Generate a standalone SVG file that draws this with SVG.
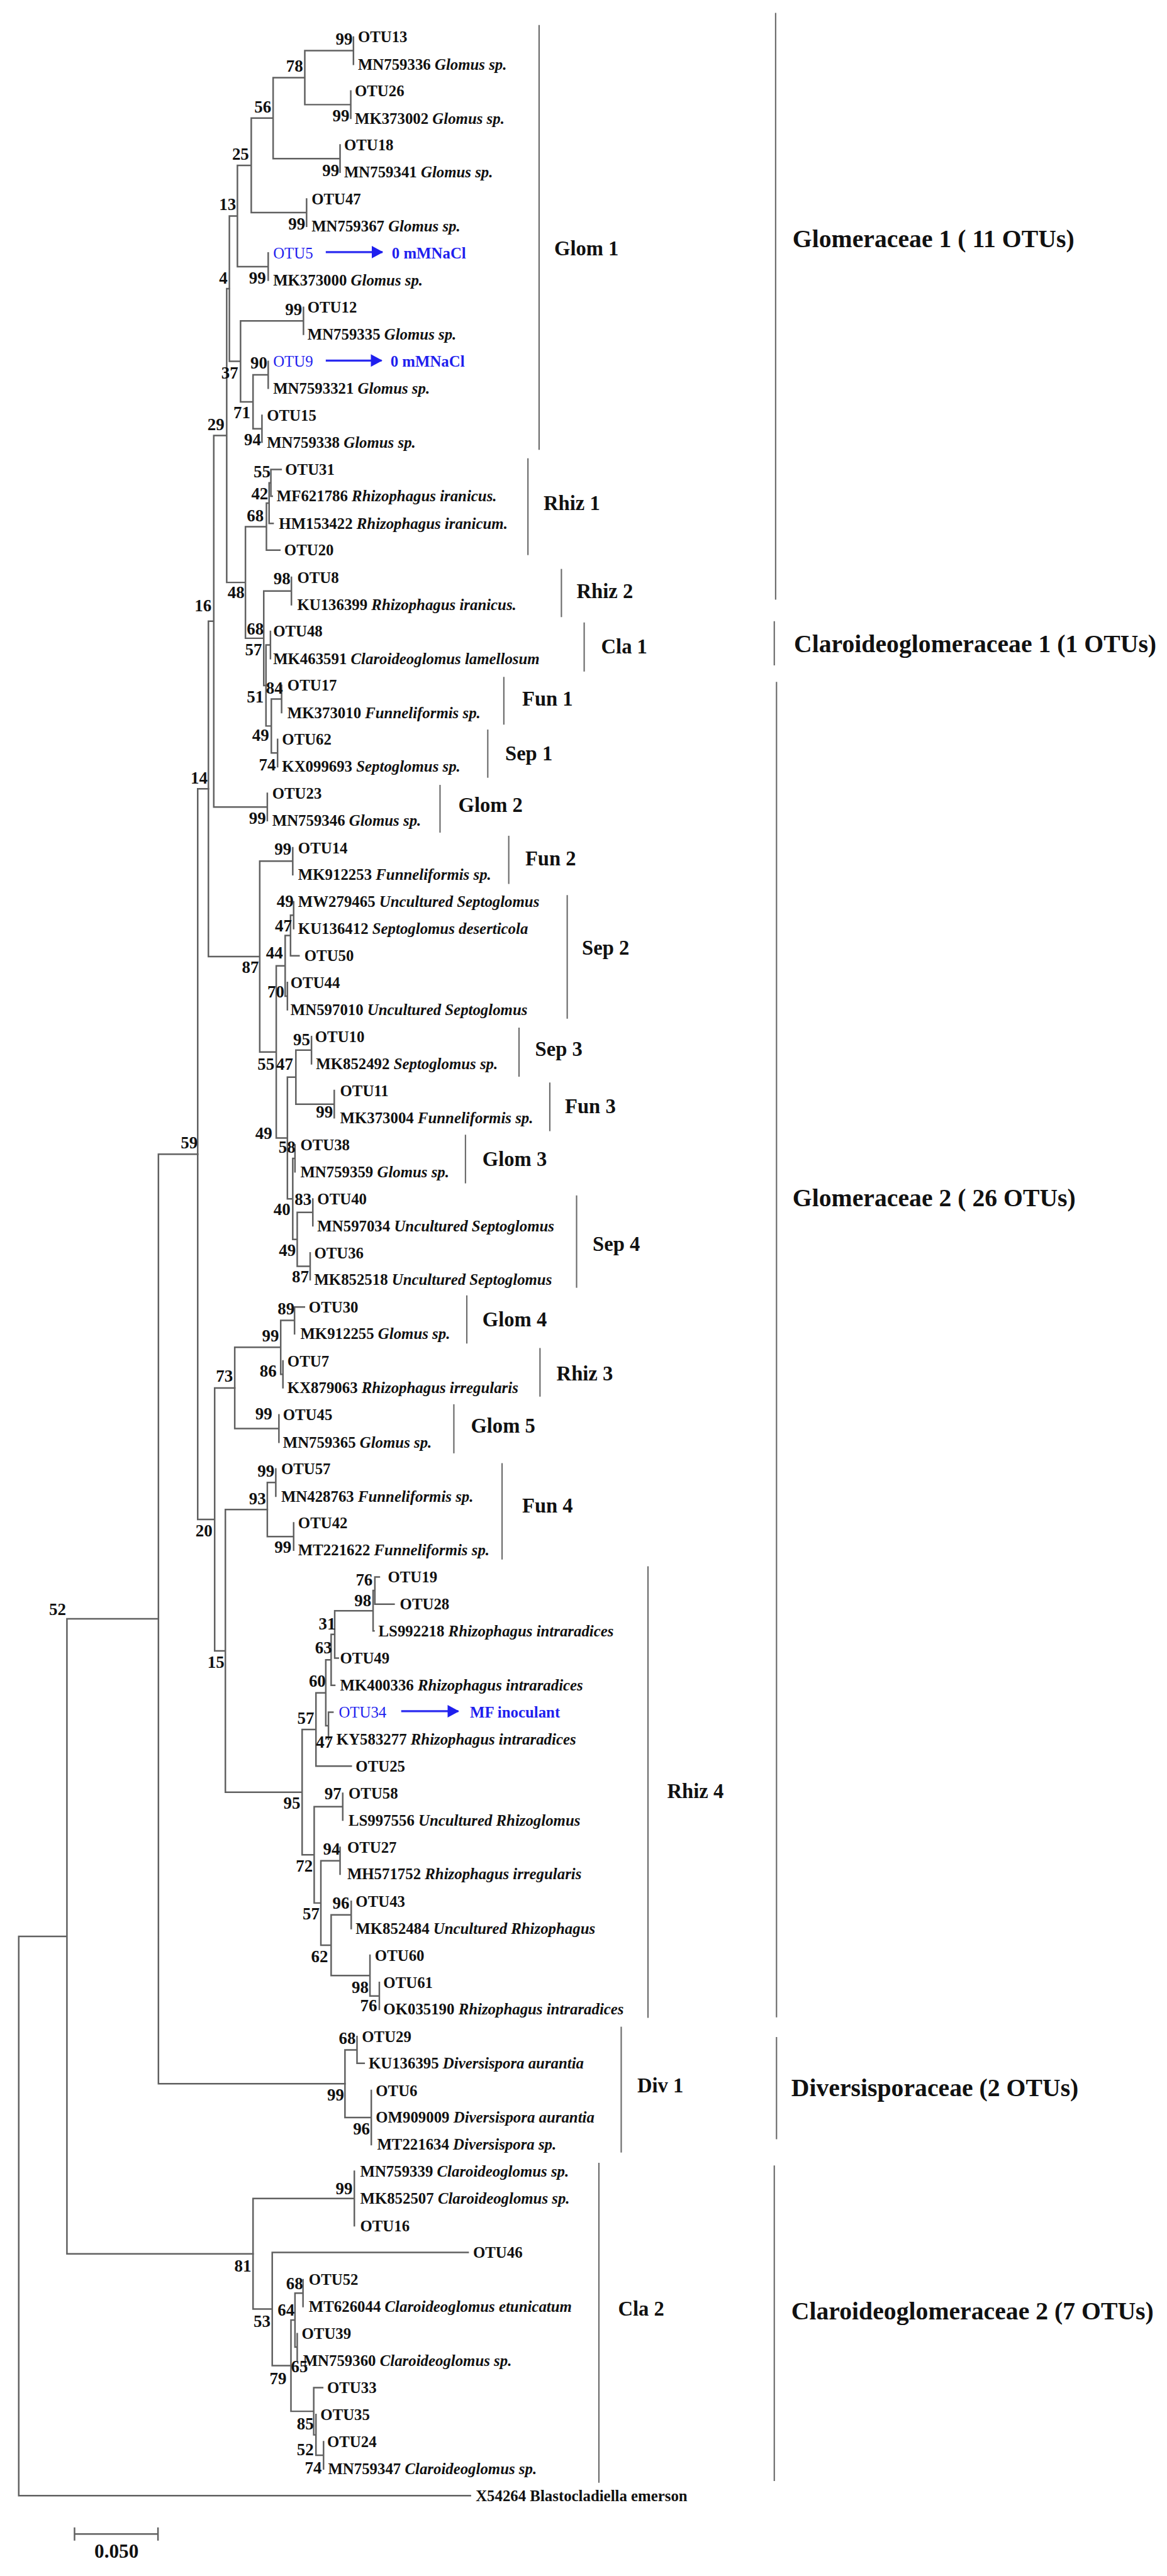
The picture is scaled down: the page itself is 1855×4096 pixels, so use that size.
<svg xmlns="http://www.w3.org/2000/svg" width="1855" height="4096" viewBox="0 0 1855 4096">
<defs>
<style>
text{font-family:"Liberation Serif","Times New Roman",serif;font-weight:bold;fill:#111}
.t{font-size:35px}
.i{font-style:italic}
.s{font-size:38px;text-anchor:end}
.c{font-size:46px}
.f{font-size:56px}
.bl{fill:#1f1fee}
.n{font-weight:normal}
.tree{fill:none;stroke:#606060;stroke-width:3.5;stroke-linecap:square}
.bar{fill:none;stroke:#6a6a6a;stroke-width:3}
.arr{fill:none;stroke:#2a2af0;stroke-width:4.5}
</style>
<marker id="ah" markerUnits="userSpaceOnUse" markerWidth="26" markerHeight="28" refX="24" refY="14" orient="auto">
<path d="M0,0L26,14L0,28Z" fill="#1f1fee"/>
</marker>
</defs>
<rect width="1855" height="4096" fill="#fff"/>
<g transform="scale(0.70937,0.70951)">
<g id="connectors">
<path class="tree" d="M792,83V144M786,204V265M683,113.5V234.5M683,113.5H792M683,234.5H786M762,325V386M612,174V355.5M612,174H683M612,355.5H762M687,446V507M563,264.75V476.5M563,264.75H612M563,476.5H687M601,567V628M532,370.6V597.5M532,370.6H563M532,597.5H601M680,689V749M601,810V870M587,931V991M567,840V961M567,840H601M567,961H587M539,719V900.5M539,719H680M539,900.5H567M514,484V809.75M514,484H532M514,809.75H539"/>
<path class="tree" d="M607,1052V1112M607,1052H630M607,1112H610M603,1082V1173M603,1082H607M603,1173H612M597,1127.5V1233M597,1127.5H603M597,1233H627M653,1294V1355M606,1415V1476M631,1536V1597M622,1657V1718M608,1566.5V1687.5M608,1566.5H631M608,1687.5H622M596,1445.5V1627M596,1445.5H606M596,1627H608M591,1324.5V1536.25M591,1324.5H653M591,1536.25H596M550,1180.25V1430.4M550,1180.25H597M550,1430.4H591M508,646.9V1305.3M508,646.9H514M508,1305.3H550M599,1778V1839M479,976.1V1808.5M479,976.1H508M479,1808.5H599"/>
<path class="tree" d="M656,1900V1960M658,2021V2081M651,2051V2142M651,2051H658M651,2142H670M644,2202V2263M639,2096.5V2232.5M639,2096.5H651M639,2232.5H644M698,2323V2384M749,2444V2505M663,2353.5V2474.5M663,2353.5H698M663,2474.5H749M661,2566V2626M701,2687V2747M695,2808V2868M666,2717V2838M666,2717H701M666,2838H695M656,2596V2777.5M656,2596H661M656,2777.5H666M644,2414V2686.75M644,2414H663M644,2686.75H656M619,2164.5V2550.4M619,2164.5H639M619,2550.4H644M582,1930V2357.5M582,1930H656M582,2357.5H619M467,1392.3V2143.7M467,1392.3H479M467,2143.7H582"/>
<path class="tree" d="M660,2929V2989M660,2929H682M634,3050V3110M629,2959V3080M629,2959H660M629,3080H634M625,3171V3232M526,3019.5V3201.5M526,3019.5H629M526,3201.5H625M618,3292V3353M658,3413V3474M599,3322.5V3443.5M599,3322.5H618M599,3443.5H658"/>
<path class="tree" d="M840,3534V3595M840,3534H850M840,3595H883M836,3564.5V3655M836,3564.5H840M836,3655H838M750,3609.75V3716M750,3609.75H836M750,3716H758M742,3662.9V3777M742,3662.9H750M742,3777H750M736,3837V3898M736,3837H746M730,3719.9V3867.5M730,3719.9H742M730,3867.5H736M708,3793.7V3958M708,3793.7H730M708,3958H787M768,4019V4079M762,4140V4200M787,4261V4322M850,4443V4503M829,4382V4473M829,4473H850M742,4291.5V4427.5M742,4291.5H787M742,4427.5H829M719,4170V4359.5M719,4170H762M719,4359.5H742M704,4049V4264.75M704,4049H768M704,4264.75H719M677,3875.9V4156.9M677,3875.9H708M677,4156.9H704M505,3383V4016.4M505,3383H599M505,4016.4H677M481,3110.5V3699.7M481,3110.5H526M481,3699.7H505M443,1767.9V3405.1M443,1767.9H467M443,3405.1H481"/>
<path class="tree" d="M800,4564V4624M800,4624H816M832,4685V4806M773,4594V4745.5M773,4594H800M773,4745.5H832M794,4866V4988M679,5109V5169M666,5230V5290M661,5139V5260M661,5139H679M661,5260H666M725,5472V5533M708,5411V5502.5M708,5502.5H725M703,5351V5456.75M703,5351H723M703,5456.75H708M652,5199.5V5403.9M652,5199.5H661M652,5403.9H703M610,5048V5301.7M610,5048H1049M610,5301.7H652M567,4927V5174.85M567,4927H794M567,5174.85H610"/>
<path class="tree" d="M355,2586.5V4669.75M355,2586.5H443M355,4669.75H773M150,3628V5051M150,3628H355M150,5051H567M42,4339.5V5593M42,4339.5H150M42,5593H1054"/>
<path class="arr" d="M730,565H857" marker-end="url(#ah)"/>
<path class="arr" d="M730,808H855" marker-end="url(#ah)"/>
<path class="arr" d="M899,3835H1027" marker-end="url(#ah)"/>
</g>
<g id="support">
<text class="s" x="790" y="100">99</text><text class="s" x="783" y="272">99</text><text class="s" x="679" y="161">78</text><text class="s" x="760" y="394">99</text><text class="s" x="608" y="252">56</text><text class="s" x="684" y="514">99</text><text class="s" x="558" y="358">25</text><text class="s" x="529" y="471">13</text>
<text class="s" x="596" y="635">99</text><text class="s" x="510" y="635">4</text><text class="s" x="677" y="706">99</text><text class="s" x="599" y="826">90</text><text class="s" x="585" y="998">94</text><text class="s" x="561" y="937">71</text><text class="s" x="534" y="848">37</text><text class="s" x="503" y="964">29</text>
<text class="s" x="606" y="1070">55</text><text class="s" x="601" y="1119">42</text><text class="s" x="591" y="1168">68</text><text class="s" x="651" y="1310">98</text><text class="s" x="548" y="1340">48</text><text class="s" x="474" y="1370">16</text><text class="s" x="591" y="1422">68</text><text class="s" x="587" y="1468">57</text><text class="s" x="634" y="1554">84</text><text class="s" x="591" y="1575">51</text>
<text class="s" x="603" y="1661">49</text><text class="s" x="618" y="1726">74</text><text class="s" x="465" y="1756">14</text><text class="s" x="596" y="1847">99</text><text class="s" x="653" y="1915">99</text><text class="s" x="658" y="2032">49</text><text class="s" x="654" y="2087">47</text>
<text class="s" x="634" y="2148">44</text><text class="s" x="580" y="2180">87</text><text class="s" x="637" y="2235">70</text><text class="s" x="695" y="2342">95</text><text class="s" x="657" y="2398">47</text><text class="s" x="615" y="2398">55</text><text class="s" x="746" y="2504">99</text><text class="s" x="610" y="2552">49</text><text class="s" x="443" y="2574">59</text><text class="s" x="662" y="2584">58</text>
<text class="s" x="698" y="2701">83</text><text class="s" x="651" y="2723">40</text><text class="s" x="663" y="2815">49</text><text class="s" x="692" y="2874">87</text><text class="s" x="660" y="2945">89</text><text class="s" x="625" y="3007">99</text><text class="s" x="620" y="3085">86</text><text class="s" x="522" y="3097">73</text>
<text class="s" x="610" y="3181">99</text><text class="s" x="615" y="3309">99</text><text class="s" x="596" y="3372">93</text><text class="s" x="476" y="3443">20</text><text class="s" x="653" y="3480">99</text><text class="s" x="835" y="3553">76</text><text class="s" x="832" y="3600">98</text><text class="s" x="752" y="3652">31</text>
<text class="s" x="744" y="3706">63</text><text class="s" x="503" y="3738">15</text><text class="s" x="730" y="3780">60</text><text class="s" x="704" y="3863">57</text><text class="s" x="746" y="3917">47</text><text class="s" x="765" y="4032">97</text><text class="s" x="673" y="4054">95</text><text class="s" x="762" y="4157">94</text>
<text class="s" x="701" y="4194">72</text><text class="s" x="783" y="4278">96</text><text class="s" x="716" y="4302">57</text><text class="s" x="735" y="4398">62</text><text class="s" x="826" y="4466">98</text><text class="s" x="845" y="4508">76</text><text class="s" x="797" y="4581">68</text>
<text class="s" x="771" y="4707">99</text><text class="s" x="829" y="4783">96</text><text class="s" x="790" y="4917">99</text><text class="s" x="563" y="5091">81</text><text class="s" x="679" y="5130">68</text><text class="s" x="660" y="5190">64</text><text class="s" x="606" y="5215">53</text>
<text class="s" x="690" y="5317">65</text><text class="s" x="642" y="5343">79</text><text class="s" x="703" y="5445">85</text><text class="s" x="703" y="5503">52</text><text class="s" x="721" y="5543">74</text>
<text class="s" x="148" y="3620">52</text>
</g>
<g id="clade-glom1">
<text class="t" x="802" y="95">OTU13</text>
<text class="t" x="802" y="156">MN759336 <tspan class="i">Glomus sp.</tspan></text>
<text class="t" x="795" y="216">OTU26</text>
<text class="t" x="795" y="277">MK373002 <tspan class="i">Glomus sp.</tspan></text>
<text class="t" x="771" y="337">OTU18</text>
<text class="t" x="771" y="398">MN759341 <tspan class="i">Glomus sp.</tspan></text>
<text class="t" x="698" y="458">OTU47</text>
<text class="t" x="698" y="519">MN759367 <tspan class="i">Glomus sp.</tspan></text>
<text class="t bl n" x="612" y="579">OTU5</text>
<text class="t bl" x="878" y="579">0 mMNaCl</text>
<text class="t" x="612" y="640">MK373000 <tspan class="i">Glomus sp.</tspan></text>
<text class="t" x="689" y="701">OTU12</text>
<text class="t" x="689" y="761">MN759335 <tspan class="i">Glomus sp.</tspan></text>
<text class="t bl n" x="612" y="822">OTU9</text>
<text class="t bl" x="875" y="822">0 mMNaCl</text>
<text class="t" x="612" y="882">MN7593321 <tspan class="i">Glomus sp.</tspan></text>
<text class="t" x="598" y="943">OTU15</text>
<text class="t" x="598" y="1003">MN759338 <tspan class="i">Glomus sp.</tspan></text>
<path class="bar" d="M1208,56V1008"/>
<text class="c" x="1242" y="572">Glom 1</text>
</g>
<g id="clade-rhiz1">
<text class="t" x="639" y="1064">OTU31</text>
<text class="t" x="620" y="1124">MF621786 <tspan class="i">Rhizophagus iranicus.</tspan></text>
<text class="t" x="625" y="1185">HM153422 <tspan class="i">Rhizophagus iranicum.</tspan></text>
<text class="t" x="637" y="1245">OTU20</text>
<path class="bar" d="M1183,1027V1244"/>
<text class="c" x="1218" y="1143">Rhiz 1</text>
</g>
<g id="clade-rhiz2">
<text class="t" x="666" y="1306">OTU8</text>
<text class="t" x="666" y="1367">KU136399 <tspan class="i">Rhizophagus iranicus.</tspan></text>
<path class="bar" d="M1258,1275V1383"/>
<text class="c" x="1292" y="1341">Rhiz 2</text>
</g>
<g id="clade-cla1">
<text class="t" x="612" y="1427">OTU48</text>
<text class="t" x="612" y="1488">MK463591 <tspan class="i">Claroideoglomus lamellosum</tspan></text>
<path class="bar" d="M1309,1395V1505"/>
<text class="c" x="1347" y="1464">Cla 1</text>
</g>
<g id="clade-fun1">
<text class="t" x="644" y="1548">OTU17</text>
<text class="t" x="644" y="1609">MK373010 <tspan class="i">Funneliformis sp.</tspan></text>
<path class="bar" d="M1129,1517V1624"/>
<text class="c" x="1170" y="1582">Fun 1</text>
</g>
<g id="clade-sep1">
<text class="t" x="632" y="1669">OTU62</text>
<text class="t" x="632" y="1730">KX099693 <tspan class="i">Septoglomus sp.</tspan></text>
<path class="bar" d="M1093,1635V1743"/>
<text class="c" x="1132" y="1704">Sep 1</text>
</g>
<g id="clade-glom2">
<text class="t" x="610" y="1790">OTU23</text>
<text class="t" x="610" y="1851">MN759346 <tspan class="i">Glomus sp.</tspan></text>
<path class="bar" d="M986,1759V1866"/>
<text class="c" x="1027" y="1820">Glom 2</text>
</g>
<g id="clade-fun2">
<text class="t" x="668" y="1912">OTU14</text>
<text class="t" x="668" y="1972">MK912253 <tspan class="i">Funneliformis sp.</tspan></text>
<path class="bar" d="M1140,1873V1981"/>
<text class="c" x="1177" y="1940">Fun 2</text>
</g>
<g id="clade-sep2">
<text class="t" x="668" y="2033">MW279465 <tspan class="i">Uncultured Septoglomus</tspan></text>
<text class="t" x="668" y="2093">KU136412 <tspan class="i">Septoglomus deserticola</tspan></text>
<text class="t" x="682" y="2154">OTU50</text>
<text class="t" x="651" y="2214">OTU44</text>
<text class="t" x="651" y="2275">MN597010 <tspan class="i">Uncultured Septoglomus</tspan></text>
<path class="bar" d="M1271,2006V2283"/>
<text class="c" x="1304" y="2139">Sep 2</text>
</g>
<g id="clade-sep3">
<text class="t" x="706" y="2335">OTU10</text>
<text class="t" x="708" y="2396">MK852492 <tspan class="i">Septoglomus sp.</tspan></text>
<path class="bar" d="M1163,2303V2413"/>
<text class="c" x="1199" y="2367">Sep 3</text>
</g>
<g id="clade-fun3">
<text class="t" x="762" y="2456">OTU11</text>
<text class="t" x="762" y="2517">MK373004 <tspan class="i">Funneliformis sp.</tspan></text>
<path class="bar" d="M1232,2426V2535"/>
<text class="c" x="1266" y="2494">Fun 3</text>
</g>
<g id="clade-glom3">
<text class="t" x="673" y="2578">OTU38</text>
<text class="t" x="673" y="2638">MN759359 <tspan class="i">Glomus sp.</tspan></text>
<path class="bar" d="M1043,2543V2652"/>
<text class="c" x="1081" y="2613">Glom 3</text>
</g>
<g id="clade-sep4">
<text class="t" x="711" y="2699">OTU40</text>
<text class="t" x="711" y="2759">MN597034 <tspan class="i">Uncultured Septoglomus</tspan></text>
<text class="t" x="704" y="2820">OTU36</text>
<text class="t" x="704" y="2880">MK852518 <tspan class="i">Uncultured Septoglomus</tspan></text>
<path class="bar" d="M1292,2679V2886"/>
<text class="c" x="1328" y="2803">Sep 4</text>
</g>
<g id="clade-glom4">
<text class="t" x="692" y="2941">OTU30</text>
<text class="t" x="673" y="3001">MK912255 <tspan class="i">Glomus sp.</tspan></text>
<path class="bar" d="M1046,2903V3011"/>
<text class="c" x="1081" y="2973">Glom 4</text>
</g>
<g id="clade-rhiz3">
<text class="t" x="644" y="3062">OTU7</text>
<text class="t" x="644" y="3122">KX879063 <tspan class="i">Rhizophagus irregularis</tspan></text>
<path class="bar" d="M1210,3021V3130"/>
<text class="c" x="1247" y="3094">Rhiz 3</text>
</g>
<g id="clade-glom5">
<text class="t" x="634" y="3183">OTU45</text>
<text class="t" x="634" y="3244">MN759365 <tspan class="i">Glomus sp.</tspan></text>
<path class="bar" d="M1017,3147V3257"/>
<text class="c" x="1055" y="3211">Glom 5</text>
</g>
<g id="clade-fun4">
<text class="t" x="630" y="3304">OTU57</text>
<text class="t" x="630" y="3365">MN428763 <tspan class="i">Funneliformis sp.</tspan></text>
<text class="t" x="668" y="3425">OTU42</text>
<text class="t" x="668" y="3486">MT221622 <tspan class="i">Funneliformis sp.</tspan></text>
<path class="bar" d="M1125,3279V3495"/>
<text class="c" x="1170" y="3390">Fun 4</text>
</g>
<g id="clade-rhiz4">
<text class="t" x="869" y="3546">OTU19</text>
<text class="t" x="896" y="3607">OTU28</text>
<text class="t" x="848" y="3667">LS992218 <tspan class="i">Rhizophagus intraradices</tspan></text>
<text class="t" x="762" y="3728">OTU49</text>
<text class="t" x="762" y="3789">MK400336 <tspan class="i">Rhizophagus intraradices</tspan></text>
<text class="t bl n" x="759" y="3849">OTU34</text>
<text class="t bl" x="1053" y="3849">MF  inoculant</text>
<text class="t" x="754" y="3910">KY583277 <tspan class="i">Rhizophagus intraradices</tspan></text>
<text class="t" x="797" y="3970">OTU25</text>
<text class="t" x="781" y="4031">OTU58</text>
<text class="t" x="781" y="4091">LS997556 <tspan class="i">Uncultured Rhizoglomus</tspan></text>
<text class="t" x="778" y="4152">OTU27</text>
<text class="t" x="778" y="4212">MH571752 <tspan class="i">Rhizophagus irregularis</tspan></text>
<text class="t" x="797" y="4273">OTU43</text>
<text class="t" x="797" y="4334">MK852484 <tspan class="i">Uncultured Rhizophagus</tspan></text>
<text class="t" x="840" y="4394">OTU60</text>
<text class="t" x="859" y="4455">OTU61</text>
<text class="t" x="859" y="4515">OK035190 <tspan class="i">Rhizophagus intraradices</tspan></text>
<path class="bar" d="M1452,3510V4522"/>
<text class="c" x="1495" y="4030">Rhiz 4</text>
</g>
<g id="clade-div1">
<text class="t" x="811" y="4576">OTU29</text>
<text class="t" x="826" y="4636">KU136395 <tspan class="i">Diversispora aurantia</tspan></text>
<text class="t" x="842" y="4697">OTU6</text>
<text class="t" x="842" y="4757">OM909009 <tspan class="i">Diversispora aurantia</tspan></text>
<text class="t" x="845" y="4818">MT221634 <tspan class="i">Diversispora sp.</tspan></text>
<path class="bar" d="M1392,4542V4824"/>
<text class="c" x="1428" y="4689">Div 1</text>
</g>
<g id="clade-cla2">
<text class="t" x="807" y="4878">MN759339 <tspan class="i">Claroideoglomus sp.</tspan></text>
<text class="t" x="807" y="4939">MK852507 <tspan class="i">Claroideoglomus sp.</tspan></text>
<text class="t" x="807" y="5000">OTU16</text>
<text class="t" x="1060" y="5060">OTU46</text>
<text class="t" x="692" y="5121">OTU52</text>
<text class="t" x="692" y="5181">MT626044 <tspan class="i">Claroideoglomus etunicatum</tspan></text>
<text class="t" x="676" y="5242">OTU39</text>
<text class="t" x="679" y="5302">MN759360 <tspan class="i">Claroideoglomus sp.</tspan></text>
<text class="t" x="733" y="5363">OTU33</text>
<text class="t" x="718" y="5423">OTU35</text>
<text class="t" x="733" y="5484">OTU24</text>
<text class="t" x="735" y="5545">MN759347 <tspan class="i">Claroideoglomus sp.</tspan></text>
<path class="bar" d="M1342,4847V5564"/>
<text class="c" x="1385" y="5189">Cla 2</text>
</g>
<g id="outgroup">
<text class="t" x="1066" y="5605">X54264 Blastocladiella emerson</text>
</g>
<g id="families">
<path class="bar" d="M1738,29V1344M1735,1392V1491M1740,1528V4521M1740,4565V4794M1735,4853V5560"/>
<text class="f" x="1776" y="554">Glomeraceae 1 ( 11 OTUs)</text>
<text class="f" x="1779" y="1461">Claroideoglomeraceae 1 (1 OTUs)</text>
<text class="f" x="1776" y="2703">Glomeraceae 2 ( 26 OTUs)</text>
<text class="f" x="1773" y="4697">Diversisporaceae (2 OTUs)</text>
<text class="f" x="1773" y="5198">Claroideoglomeraceae 2 (7 OTUs)</text>
</g>
<g id="scalebar">
<path class="tree" d="M167,5679H354M167,5666V5692M354,5666V5692"/>
<text x="261" y="5732" font-size="44" text-anchor="middle">0.050</text>
</g>
</g>
</svg>
